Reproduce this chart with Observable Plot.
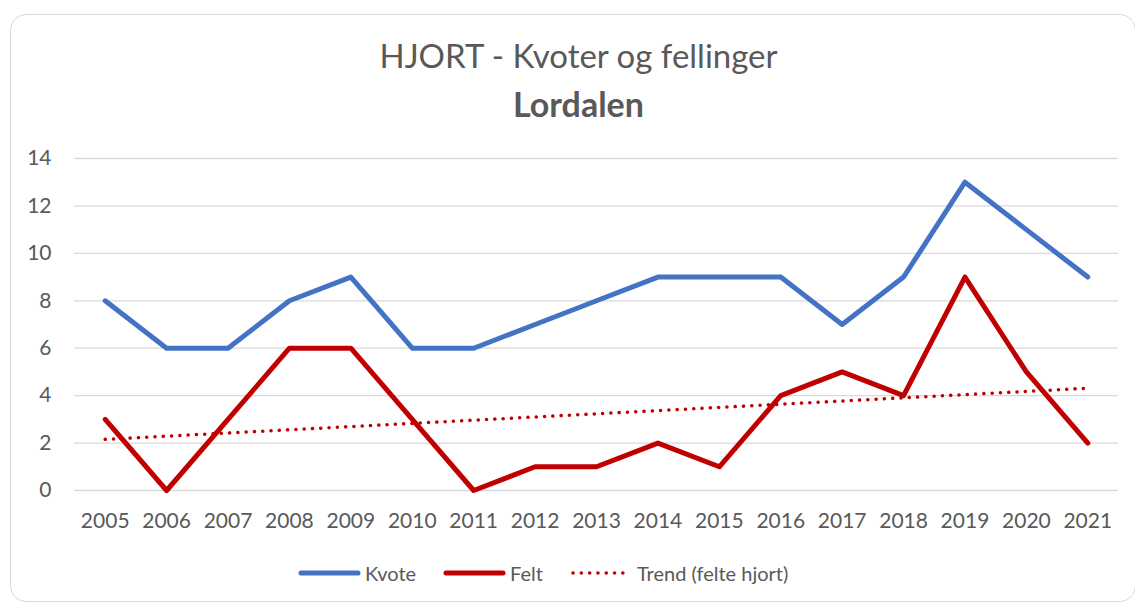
<!DOCTYPE html>
<html>
<head>
<meta charset="utf-8">
<script src="https://cdn.jsdelivr.net/npm/d3@7"></script>
<script src="https://cdn.jsdelivr.net/npm/@observablehq/plot@0.6"></script>
<style>
  html, body { margin: 0; padding: 0; background: #fff; }
  #wrap { position: relative; width: 1135px; height: 606px; overflow: hidden; font-family: Lato, "Open Sans", sans-serif; color: #595959; }
  #frame { position: absolute; left: 10px; top: 14px; width: 1126px; height: 588px; border: 1.3px solid #d9d9d9; border-radius: 16px; box-sizing: border-box; }
  .title { position: absolute; left: 0; width: 1157px; text-align: center; line-height: 1; white-space: nowrap; }
  #t1 { top: 39px; font-size: 33px; font-weight: 400; }
  #t2 { top: 87px; font-size: 34px; font-weight: 700; }
  #chart { position: absolute; left: 0; top: 140px; }
  #legend { position: absolute; left: 298px; top: 562px; height: 22px; display: flex; align-items: center; font-size: 20px; white-space: nowrap; }
  #legend .item { display: flex; align-items: center; margin-right: 27px; }
  #legend svg { margin-right: 4px; }
</style>
</head>
<body>
<div id="wrap">
  <div id="frame"></div>
  <div class="title" id="t1"></div>
  <div class="title" id="t2"></div>
  <div id="chart"></div>
  <div id="legend"></div>
</div>
<script>
const titleText = "HJORT - Kvoter og fellinger";
const subtitleText = "Lordalen";
const years = [2005, 2006, 2007, 2008, 2009, 2010, 2011, 2012, 2013, 2014, 2015, 2016, 2017, 2018, 2019, 2020, 2021];
const kvote = [8, 6, 6, 8, 9, 6, 6, 7, 8, 9, 9, 9, 7, 9, 13, 11, 9];
const felt  = [3, 0, 3, 6, 6, 3, 0, 1, 1, 2, 1, 4, 5, 4, 9, 5, 2];
const yTicks = [0, 2, 4, 6, 8, 10, 12, 14];
const seriesNames = ["Kvote", "Felt", "Trend (felte hjort)"];
const colors = { kvote: "#4472C4", felt: "#C00000" };

document.getElementById("t1").textContent = titleText;
document.getElementById("t2").textContent = subtitleText;

const kvoteData = years.map((y, i) => ({ year: y, value: kvote[i] }));
const feltData = years.map((y, i) => ({ year: y, value: felt[i] }));

const chart = Plot.plot({
  width: 1135,
  height: 400,
  marginLeft: 74,
  marginRight: 17,
  marginTop: 18,
  marginBottom: 50,
  style: { fontFamily: "Lato, 'Open Sans', sans-serif", fontSize: "21px", color: "#595959", background: "transparent", overflow: "visible" },
  x: { domain: [years[0] - 0.5, years[years.length - 1] + 0.5], ticks: years, tickFormat: d => String(d), tickSize: 0, tickPadding: 23, label: null },
  y: { domain: [0, 14], ticks: yTicks, tickSize: 0, tickPadding: 23, label: null },
  marks: [
    Plot.ruleY(yTicks, { stroke: "#d9d9d9", strokeWidth: 1.3 }),
    Plot.line(kvoteData, { x: "year", y: "value", stroke: colors.kvote, strokeWidth: 5, strokeLinejoin: "round", strokeLinecap: "round" }),
    Plot.line(feltData, { x: "year", y: "value", stroke: colors.felt, strokeWidth: 5, strokeLinejoin: "round", strokeLinecap: "round" }),
    Plot.linearRegressionY(feltData, { x: "year", y: "value", ci: 0, stroke: colors.felt, strokeWidth: 3.5, strokeDasharray: "0.1 8.2", strokeLinecap: "round" })
  ]
});
document.getElementById("chart").appendChild(chart);

const legend = document.getElementById("legend");
const samples = [
  { name: seriesNames[0], color: colors.kvote, w: 5, dash: null },
  { name: seriesNames[1], color: colors.felt, w: 5, dash: null },
  { name: seriesNames[2], color: colors.felt, w: 3.5, dash: "0.1 8.2" }
];
samples.forEach(s => {
  const item = document.createElement("div");
  item.className = "item";
  const svg = d3.create("svg").attr("width", 63).attr("height", 12);
  svg.append("line").attr("x1", 3).attr("x2", 60).attr("y1", 6).attr("y2", 6)
    .attr("stroke", s.color).attr("stroke-width", s.w).attr("stroke-linecap", "round")
    .attr("stroke-dasharray", s.dash);
  item.appendChild(svg.node());
  const span = document.createElement("span");
  span.textContent = s.name;
  item.appendChild(span);
  legend.appendChild(item);
});
</script>
</body>
</html>
